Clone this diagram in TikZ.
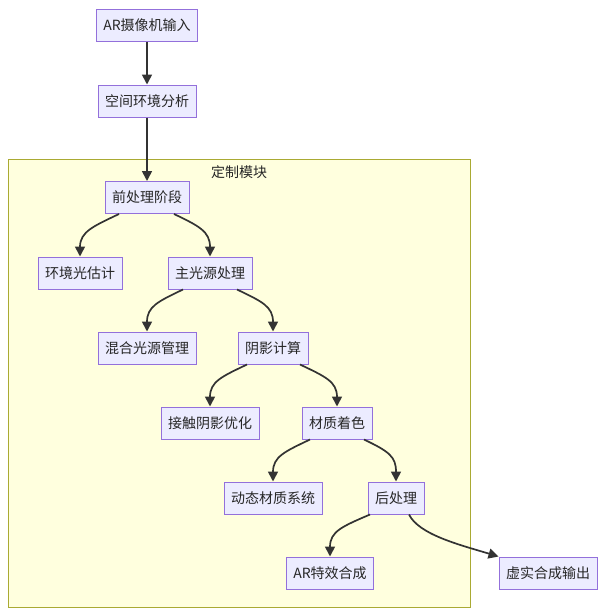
\documentclass[tikz,border=0pt]{standalone}
\usepackage{tikz}
\usepackage{fontspec}
\setmainfont{Noto Sans CJK SC}
\usetikzlibrary{arrows.meta}
\definecolor{nodefill}{HTML}{ECECFF}
\definecolor{nodeborder}{HTML}{9370DB}
\definecolor{clusterfill}{HTML}{FFFFDE}
\definecolor{clusterborder}{HTML}{AAAA33}
\definecolor{edgecol}{HTML}{333333}
\begin{document}
\begin{tikzpicture}[x=1pt,y=-1pt,
  box/.style={draw=nodeborder, fill=nodefill, line width=1pt, inner xsep=7pt, inner ysep=0pt,
    minimum height=32pt, text=black!85, font=\fontsize{14}{16}\selectfont},
  edge/.style={draw=edgecol, line width=1.7pt, -{Triangle[length=10pt,width=10pt]}},
  clusterbox/.style={draw=clusterborder, fill=clusterfill, line width=1pt}
]
\useasboundingbox (0,0) rectangle (597,610);
% cluster
\path[clusterbox] (8,159) rectangle (470,607);
\node[font=\fontsize{14}{16}\selectfont, text=black!85] (clabel) at (239,172) {定制模块};
% nodes
\node[box] (cam) at (147,25.5) {AR摄像机输入};
\node[box] (space) at (147,101) {空间环境分析};
\node[box] (pre) at (147,197.5) {前处理阶段};
\node[box] (amb) at (80,273) {环境光估计};
\node[box] (main) at (210,273) {主光源处理};
\node[box] (mix) at (147,348) {混合光源管理};
\node[box] (shadow) at (273,348) {阴影计算};
\node[box] (contact) at (210,423) {接触阴影优化};
\node[box] (mat) at (337,423) {材质着色};
\node[box] (dyn) at (273,498) {动态材质系统};
\node[box] (post) at (396,498) {后处理};
\node[box] (fx) at (330,573) {AR特效合成};
\node[box] (out) at (548,573) {虚实合成输出};
% edges
\draw[edge] (cam.south) -- (space.north);
\draw[edge] (space.south) -- (pre.north);
\draw[edge] ([xshift=-28pt]pre.south) .. controls +(-25,12) and +(0,-25) .. (amb.north);
\draw[edge] ([xshift=27pt]pre.south) .. controls +(25,12) and +(0,-25) .. (main.north);
\draw[edge] ([xshift=-27pt]main.south) .. controls +(-25,12) and +(0,-25) .. (mix.north);
\draw[edge] ([xshift=27pt]main.south) .. controls +(25,12) and +(0,-25) .. (shadow.north);
\draw[edge] ([xshift=-26pt]shadow.south) .. controls +(-25,12) and +(0,-25) .. (contact.north);
\draw[edge] ([xshift=27pt]shadow.south) .. controls +(25,12) and +(0,-25) .. (mat.north);
\draw[edge] ([xshift=-27pt]mat.south) .. controls +(-25,12) and +(0,-25) .. (dyn.north);
\draw[edge] ([xshift=27pt]mat.south) .. controls +(25,12) and +(0,-25) .. (post.north);
\draw[edge] ([xshift=-26pt]post.south) .. controls +(-28,12) and +(0,-25) .. (fx.north);
\draw[edge] ([xshift=13pt]post.south) .. controls +(10,20) and +(-40,-12) .. (out.north west);
\end{tikzpicture}
\end{document}
